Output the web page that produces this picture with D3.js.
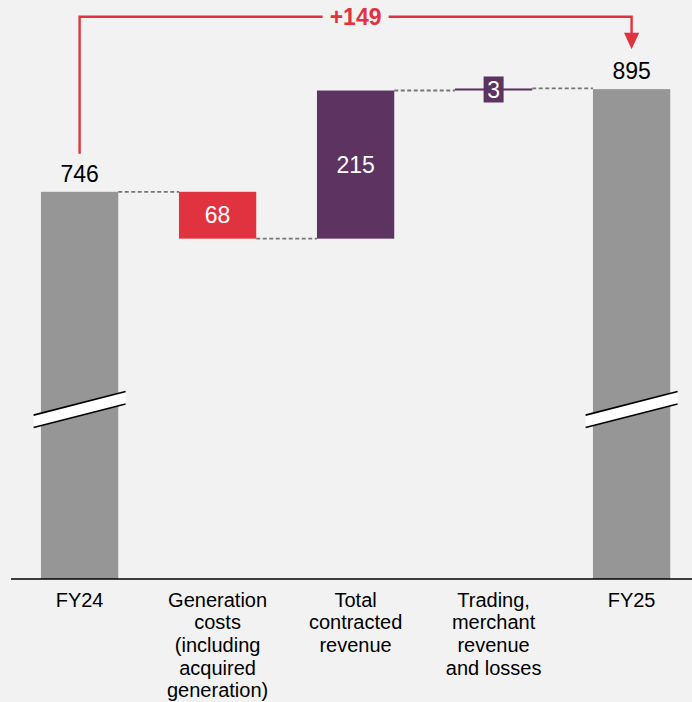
<!DOCTYPE html>
<html lang="en">
  <head>
    <meta charset="utf-8">
    <title>Waterfall FY24 to FY25</title>
    <script src="https://d3js.org/d3.v7.js"></script>
    <style>
      body { margin: 0; background: #f2f2f2; }
      svg { display: block; }
    </style>
  </head>
  <body>
    <script>

  // width and height
  var w = 692;
  var h = 702;

  // data
  var categories = ["FY24", "Generation costs", "Total contracted revenue", "Trading", "FY25"];
  var categoryLines = [
    ["FY24"],
    ["Generation", "costs", "(including", "acquired", "generation)"],
    ["Total", "contracted", "revenue"],
    ["Trading,", "merchant", "revenue", "and losses"],
    ["FY25"]
  ];
  var values = [746, -68, 215, 3, 895];
  var kinds = ["total", "delta", "delta", "delta", "total"];
  var valueLabels = ["746", "68", "215", "3", "895"];

  // build waterfall segments
  var running = 0;
  var bars = values.map(function(v, i) {
    var b;
    if (kinds[i] === "total") {
      b = {cat: categories[i], y0: null, y1: v, kind: "total", v: v};
      running = v;
    } else {
      b = {cat: categories[i], y0: running, y1: running + v, kind: v < 0 ? "neg" : "pos", v: v};
      running = running + v;
    }
    b.label = valueLabels[i];
    b.lines = categoryLines[i];
    return b;
  });

  var colors = {total: "#969696", neg: "#e0333f", pos: "#5c3361"};

  // scales (axis is broken, so it does not start at zero)
  var axisFloor = 184;
  var xScale = d3.scaleBand()
    .domain(categories)
    .range([10.6, 700.6])
    .paddingInner(0.44)
    .paddingOuter(0.22);

  var yScale = d3.scaleLinear()
    .domain([axisFloor, 900])
    .range([579, 85.7]);

  var svg = d3.select("body")
    .append("svg")
    .attr("width", w)
    .attr("height", h)
    .style("font-family", "'Liberation Sans', Arial, sans-serif");

  svg.append("rect")
    .attr("width", w)
    .attr("height", h)
    .attr("fill", "#f2f2f2");

  // connectors between bars
  var conn = [];
  for (var i = 0; i < bars.length - 1; i++) {
    conn.push({x1: xScale(bars[i].cat) + xScale.bandwidth(), x2: xScale(bars[i + 1].cat), v: bars[i].y1});
  }
  svg.append("g")
    .selectAll("line")
    .data(conn)
    .enter()
    .append("line")
    .attr("x1", d => d.x1)
    .attr("x2", d => d.x2)
    .attr("y1", d => yScale(d.v))
    .attr("y2", d => yScale(d.v))
    .attr("stroke", "#767676")
    .attr("stroke-width", 1.8)
    .attr("stroke-dasharray", "4,2.5");

  // bars
  svg.append("g")
    .selectAll("rect")
    .data(bars)
    .enter()
    .append("rect")
    .attr("x", d => xScale(d.cat))
    .attr("width", xScale.bandwidth())
    .attr("y", d => d.kind === "total" ? yScale(d.y1) : yScale(Math.max(d.y0, d.y1)))
    .attr("height", function(d) {
      if (d.kind === "total") return yScale(axisFloor) - yScale(d.y1);
      return Math.abs(yScale(d.y0) - yScale(d.y1));
    })
    .attr("fill", d => colors[d.kind]);

  // axis break marks on total bars
  var breakAt = 430;
  bars.filter(d => d.kind === "total").forEach(function(d) {
    var cx = xScale(d.cat) + xScale.bandwidth() / 2;
    var cy = yScale(breakAt);
    var hw = 46, tilt = 11.8, gap = 12.4;
    var g = svg.append("g");
    g.append("polygon")
      .attr("points", [
        [cx - hw, cy - gap / 2 + tilt], [cx + hw, cy - gap / 2 - tilt],
        [cx + hw, cy + gap / 2 - tilt], [cx - hw, cy + gap / 2 + tilt]
      ].join(" "))
      .attr("fill", "#ffffff");
    [-gap / 2, gap / 2].forEach(function(o) {
      g.append("line")
        .attr("x1", cx - hw).attr("y1", cy + o + tilt)
        .attr("x2", cx + hw).attr("y2", cy + o - tilt)
        .attr("stroke", "#000")
        .attr("stroke-width", 1.6);
    });
  });

  // value labels
  bars.forEach(function(d) {
    var cx = xScale(d.cat) + xScale.bandwidth() / 2;
    if (d.kind === "total") {
      svg.append("text")
        .attr("x", cx)
        .attr("y", yScale(d.y1) - 10)
        .attr("text-anchor", "middle")
        .attr("font-size", 23)
        .attr("fill", "#000")
        .text(d.label);
    } else if (Math.abs(yScale(d.y0) - yScale(d.y1)) > 30) {
      svg.append("text")
        .attr("x", cx)
        .attr("y", (yScale(d.y0) + yScale(d.y1)) / 2)
        .attr("dy", "0.35em")
        .attr("text-anchor", "middle")
        .attr("font-size", 23)
        .attr("fill", "#fff")
        .text(d.label);
    } else {
      // small bar: label in a filled box
      var my = (yScale(d.y0) + yScale(d.y1)) / 2;
      svg.append("rect")
        .attr("x", cx - 10)
        .attr("y", my - 13)
        .attr("width", 20)
        .attr("height", 26)
        .attr("fill", colors[d.kind]);
      svg.append("text")
        .attr("x", cx)
        .attr("y", my)
        .attr("dy", "0.35em")
        .attr("text-anchor", "middle")
        .attr("font-size", 23)
        .attr("fill", "#fff")
        .text(d.label);
    }
  });

  // x axis line and category labels
  var xAxis = d3.axisBottom(xScale).tickSize(0).tickFormat("");
  svg.append("g")
    .attr("transform", "translate(0," + yScale(axisFloor) + ")")
    .call(xAxis)
    .call(g => g.select(".domain")
      .attr("d", "M11,0H" + w)
      .attr("stroke", "#000")
      .attr("stroke-width", 1.6));

  var labels = svg.append("g")
    .selectAll("text")
    .data(bars)
    .enter()
    .append("text")
    .attr("text-anchor", "middle")
    .attr("font-size", 20)
    .attr("fill", "#000");
  labels.selectAll("tspan")
    .data(d => d.lines.map(t => ({t: t, x: xScale(d.cat) + xScale.bandwidth() / 2})))
    .enter()
    .append("tspan")
    .attr("x", d => d.x)
    .attr("y", (d, i) => 606.5 + i * 22.7)
    .text(d => d.t);

  // change arrow from first to last total
  var first = bars[0], last = bars[bars.length - 1];
  var ax1 = xScale(first.cat) + xScale.bandwidth() / 2;
  var ax2 = xScale(last.cat) + xScale.bandwidth() / 2;
  var topY = 16.7;
  var red = "#e0333f";
  svg.append("path")
    .attr("d", "M" + ax1 + "," + (yScale(first.y1) - 38) + "V" + topY + "H" + ax2 + "V" + 34)
    .attr("fill", "none")
    .attr("stroke", red)
    .attr("stroke-width", 2.4);
  svg.append("polygon")
    .attr("points", [[ax2 - 7.6, 32.7], [ax2 + 7.6, 32.7], [ax2, 49.3]].join(" "))
    .attr("fill", red);

  var diff = last.y1 - first.y1;
  var mid = (ax1 + ax2) / 2;
  svg.append("rect")
    .attr("x", mid - 33)
    .attr("y", topY - 8)
    .attr("width", 66)
    .attr("height", 16)
    .attr("fill", "#f2f2f2");
  svg.append("text")
    .attr("x", mid)
    .attr("y", 25)
    .attr("text-anchor", "middle")
    .attr("font-size", 23)
    .attr("font-weight", "bold")
    .attr("fill", red)
    .text((diff > 0 ? "+" : "") + diff);

    </script>
  </body>
</html>
